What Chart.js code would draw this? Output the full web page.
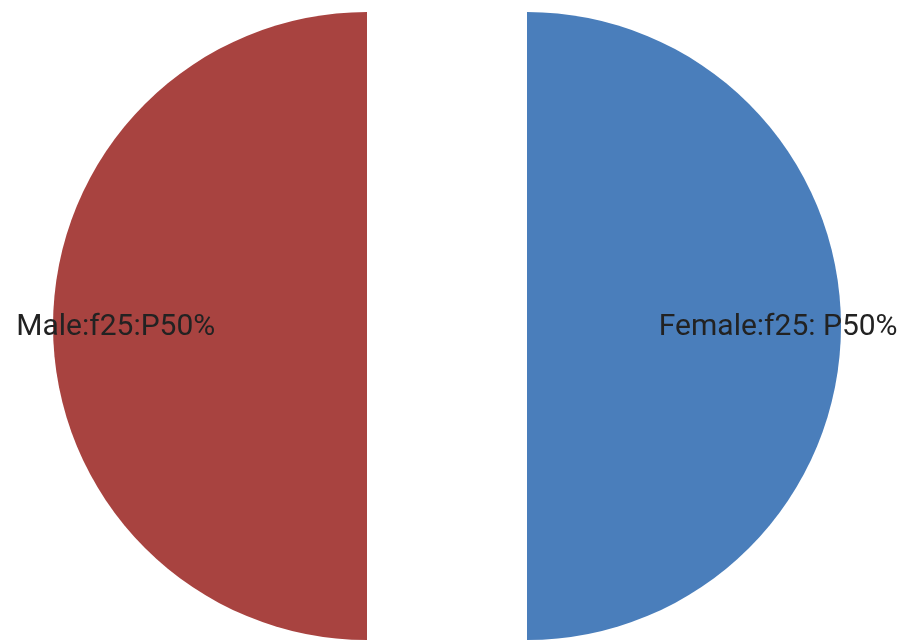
<!DOCTYPE html>
<html>
<head>
<meta charset="utf-8">
<script src="https://cdn.jsdelivr.net/npm/chart.js@4/dist/chart.umd.min.js"></script>
<style>
  html, body { margin: 0; padding: 0; background: #fff; }
  #wrap { width: 911px; height: 643px; }
</style>
</head>
<body>
<div id="wrap"><canvas id="genderPie"></canvas></div>
<script>
var labels = ['Female', 'Male'];
var counts = [25, 25];
var percents = [50, 50];
var sliceLabels = ['Female:f25: P50%', 'Male:f25:P50%'];
var colors = ['#4a7ebb', '#a84340'];

// how far each slice is pulled out from the centre, in px
var SHIFT = 80;

// pie whose slices are moved straight out along their middle angle
// (the built-in offset also grows the radius and bends the edges)
class ExplodedPie extends Chart.PieController {
    draw() {
        const ctx = this.chart.ctx;
        const area = this.chart.chartArea;
        this._cachedMeta.data.forEach(function(arc){
            const mid = (arc.startAngle + arc.endAngle) / 2;
            ctx.save();
            ctx.translate(Math.cos(mid) * SHIFT, Math.sin(mid) * SHIFT);
            arc.draw(ctx, area);
            ctx.restore();
        });
    }
}
ExplodedPie.id = 'explodedPie';
Chart.register(ExplodedPie);

// writes the label text inside each slice
const sliceText = {
    id: 'sliceText',
    afterDatasetsDraw(chart) {
        const ctx = chart.ctx;
        const meta = chart.getDatasetMeta(0);
        ctx.save();
        ctx.font = '30px Roboto';
        ctx.fillStyle = '#222';
        ctx.textAlign = 'center';
        ctx.textBaseline = 'middle';
        meta.data.forEach(function(arc, i){
            const mid = (arc.startAngle + arc.endAngle) / 2;
            const d = SHIFT + arc.outerRadius * 0.8;
            ctx.fillText(sliceLabels[i], arc.x + Math.cos(mid) * d, arc.y + Math.sin(mid) * d + 1);
        });
        ctx.restore();
    }
};

const ctx = document.getElementById('genderPie').getContext('2d');
const myChart = new Chart(ctx, {
    type: 'explodedPie',
    data: {
        labels: labels,
        datasets: [
            {
                data: counts,
                backgroundColor: colors,
                borderWidth: 0
            }
        ]
    },
    options: {
        responsive: true,
        maintainAspectRatio: false,
        animation: false,
        radius: 314,
        layout: {
            padding: { left: 0, right: 17, top: 9, bottom: 0 }
        },
        plugins: {
            legend: { display: false },
            tooltip: { enabled: false }
        }
    },
    plugins: [sliceText]
});
</script>
</body>
</html>
